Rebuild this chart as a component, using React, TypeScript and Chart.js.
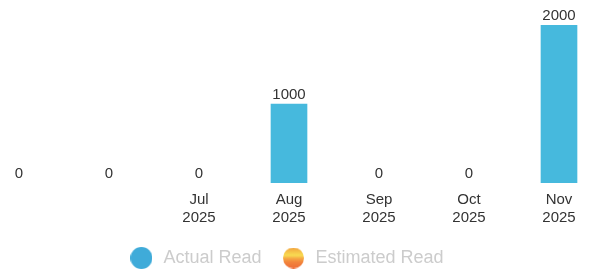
import React, { useEffect, useRef } from "react";
import { Chart, registerables } from "chart.js";

Chart.register(...registerables);

const categories: string[][] = [[""], [""], ["Jul", "2025"], ["Aug", "2025"], ["Sep", "2025"], ["Oct", "2025"], ["Nov", "2025"]];
const actualRead: number[] = [0, 0, 0, 1000, 0, 0, 2000];
const estimatedRead: (number | null)[] = [null, null, null, null, null, null, null];
const seriesNames = ["Actual Read", "Estimated Read"];

const FONT = "'Liberation Sans', Arial, sans-serif";

function makeCircle(kind: "blue" | "orange"): HTMLCanvasElement {
  const c = document.createElement("canvas");
  const s = kind === "blue" ? 22 : 21;
  c.width = s;
  c.height = s;
  const ctx = c.getContext("2d")!;
  ctx.beginPath();
  ctx.arc(s / 2, s / 2, s / 2, 0, Math.PI * 2);
  if (kind === "blue") {
    ctx.fillStyle = "#3fabd9";
  } else {
    const g = ctx.createLinearGradient(0, 0, 0, s);
    g.addColorStop(0, "#f2a23e");
    g.addColorStop(0.22, "#f6c64a");
    g.addColorStop(0.38, "#f8dc52");
    g.addColorStop(0.52, "#f6a844");
    g.addColorStop(0.7, "#f2843c");
    g.addColorStop(1, "#ee6c38");
    ctx.fillStyle = g;
  }
  ctx.fill();
  return c;
}

const valueLabels = {
  id: "valueLabels",
  afterDatasetsDraw(chart: any) {
    const ctx = chart.ctx;
    const meta = chart.getDatasetMeta(0);
    ctx.save();
    ctx.font = `15px ${FONT}`;
    ctx.fillStyle = "#333333";
    ctx.textAlign = "center";
    ctx.textBaseline = "alphabetic";
    meta.data.forEach((bar: any, i: number) => {
      const v = chart.data.datasets[0].data[i];
      ctx.fillText(String(v), bar.x, bar.y - 5);
    });
    ctx.restore();
  },
};

const legendShift = {
  id: "legendShift",
  afterLayout(chart: any) {
    if (chart.legend) {
      chart.legend.left -= 6;
    }
  },
};

export default function App() {
  const ref = useRef<HTMLCanvasElement | null>(null);
  useEffect(() => {
    if (!ref.current) return;
    const blue = makeCircle("blue");
    const orange = makeCircle("orange");
    const barColor = (c: any) => (c.raw ? "#46b9dd" : "rgba(0,0,0,0)");
    const chart = new Chart(ref.current, {
      type: "bar",
      data: {
        labels: categories,
        datasets: [
          {
            label: seriesNames[0],
            data: actualRead,
            backgroundColor: barColor,
            borderWidth: 0,
            barThickness: 36,
            pointStyle: blue,
          } as any,
          {
            label: seriesNames[1],
            data: estimatedRead,
            backgroundColor: "#f2843c",
            borderWidth: 0,
            barThickness: 36,
            pointStyle: orange,
          } as any,
        ],
      },
      options: {
        animation: false,
        responsive: false,
        maintainAspectRatio: false,
        layout: { padding: { top: 25, bottom: 0, left: 0, right: 0 } },
        scales: {
          x: {
            stacked: true,
            grid: { display: false },
            border: { display: false },
            afterFit: (s: any) => {
              s.height = 47;
            },
            ticks: {
              color: "#333333",
              font: { size: 15, family: FONT },
              padding: 0,
              maxRotation: 0,
              autoSkip: false,
            },
          },
          y: {
            display: false,
            min: 0,
            max: 2000,
            stacked: true,
          },
        },
        plugins: {
          tooltip: { enabled: false },
          legend: {
            position: "bottom",
            labels: {
              usePointStyle: true,
              pointStyleWidth: 26,
              padding: 19,
              color: "#cccccc",
              font: { size: 18, family: FONT },
            },
          },
        },
      } as any,
      plugins: [valueLabels, legendShift],
    });
    return () => chart.destroy();
  }, []);
  return (
    <div style={{ position: "fixed", left: 0, top: 0, width: 592, height: 272, overflow: "hidden" }}>
      <canvas ref={ref} width={630} height={277} style={{ display: "block", marginLeft: -26 }} />
    </div>
  );
}
